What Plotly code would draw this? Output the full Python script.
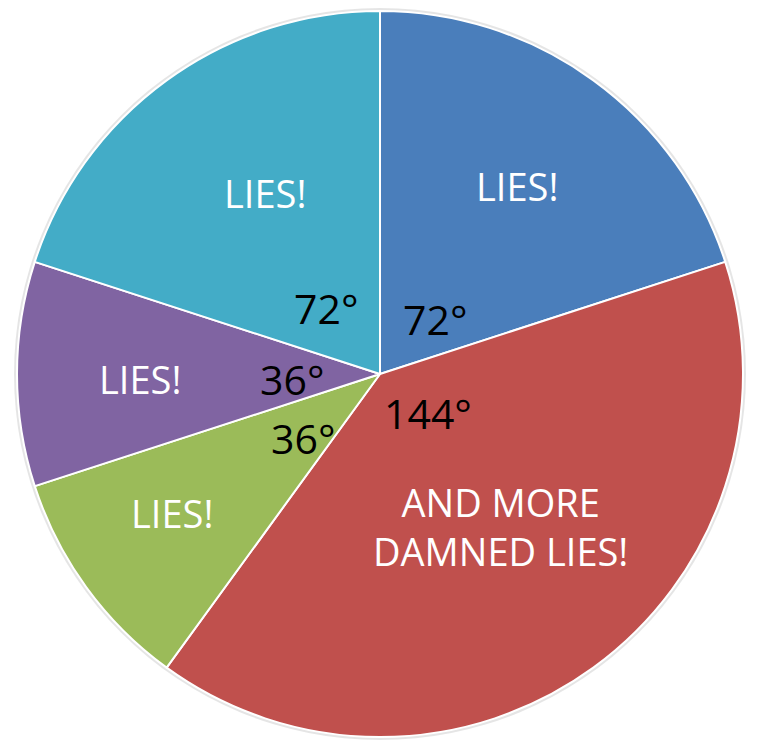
import math
import plotly.graph_objects as go

# ---- data ----
slice_names = ["Lies A", "And more damned lies", "Lies B", "Lies C", "Lies D"]
slice_degrees = [72, 144, 36, 36, 72]
slice_texts = ["LIES!", "AND MORE<br>DAMNED LIES!", "LIES!", "LIES!", "LIES!"]
degree_texts = ["72°", "144°", "36°", "36°", "72°"]

# ---- style ----
colors = ["#4A7EBB", "#C0504D", "#9BBB59", "#8064A2", "#43ACC7"]
W, H = 761, 750
OFF = 8  # page body margin
CX, CY, R = 380 - OFF, 374 - OFF, 363
# per-slice label placement: (angular fraction within slice, radial fraction)
name_pos = [(0.5, 0.64), (0.484, 0.535), (0.56, 0.69), (0.47, 0.66), (0.55, 0.59)]
deg_pos = [(0.625, 0.215), (0.40, 0.17), (0.40, 0.275), (0.41, 0.243), (0.46, 0.235)]
FONT = "Open Sans"

fig = go.Figure()
fig.add_trace(go.Pie(
    labels=slice_names,
    values=slice_degrees,
    sort=False,
    direction="clockwise",
    rotation=0,
    textinfo="none",
    hoverinfo="label+value",
    marker=dict(colors=colors, line=dict(color="white", width=2)),
    domain=dict(x=[(CX - R) / W, (CX + R) / W],
                y=[(H - CY - R) / H, (H - CY + R) / H]),
    showlegend=False,
))


def to_paper(angle_deg, rfrac):
    a = math.radians(angle_deg)
    px = CX + rfrac * R * math.sin(a)
    py = CY - rfrac * R * math.cos(a)
    return px / W, 1 - py / H


total = sum(slice_degrees)
start = 0.0
annotations = []
for i, v in enumerate(slice_degrees):
    width = v / total * 360
    for (fa, fr), txt, col, sz in ((name_pos[i], slice_texts[i], "white", 38),
                                   (deg_pos[i], degree_texts[i], "black", 41)):
        x, y = to_paper(start + fa * width, fr)
        annotations.append(dict(x=x, y=y, xref="paper", yref="paper",
                                text=txt, showarrow=False,
                                font=dict(family=FONT, size=sz, color=col),
                                xanchor="center", yanchor="middle"))
    start += width

fig.update_layout(
    width=W, height=H,
    margin=dict(l=0, r=0, t=0, b=0),
    paper_bgcolor="white",
    plot_bgcolor="white",
    annotations=annotations,
    shapes=[dict(type="circle", xref="paper", yref="paper", layer="below",
                 x0=(CX - R - 3) / W, x1=(CX + R + 3) / W,
                 y0=1 - (CY + R + 3) / H, y1=1 - (CY - R - 3) / H,
                 fillcolor="rgba(0,0,0,0.10)", line=dict(width=0))],
)

fig.write_html("out.html")
